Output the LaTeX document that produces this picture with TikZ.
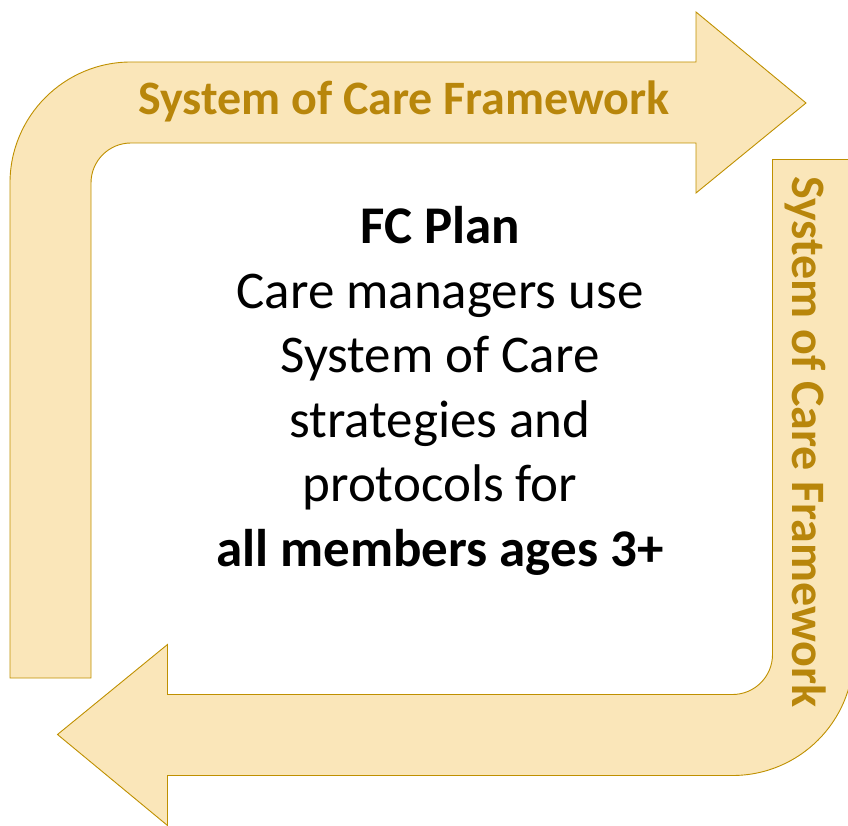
\documentclass[tikz,border=0pt]{standalone}
\usepackage{fontspec}
\setmainfont{Carlito}
\usepackage{xcolor}
\definecolor{bandfill}{HTML}{FAE6B9}
\definecolor{bandline}{HTML}{BF9000}
\definecolor{bandtext}{HTML}{B8860B}

\begin{document}
\begin{tikzpicture}[x=1pt,y=1pt,
  band/.style={fill=bandfill,draw=bandline,line width=0.9pt,line join=miter},
  bandlabel/.style={text=bandtext,font=\fontsize{48}{58}\selectfont\bfseries,inner sep=0pt},
  plantext/.style={align=center,font=\fontsize{53}{64.5}\selectfont,inner sep=0pt}]
  \useasboundingbox (0,0) rectangle (848,825);
  \clip (0,0) rectangle (848,825);

  % the two bent arrows, the second one turned half round
  \foreach \turn in {0,180}
    \draw[band,rotate around={\turn:(431.75,406.25)}]
      (10,147) -- (10,642) arc[start angle=180,end angle=90,radius=121]
      -- (696,763) -- (696,813) -- (806,722) -- (696,632) -- (696,682)
      -- (131,682) arc[start angle=90,end angle=180,radius=40] -- (91,147) -- cycle;

  \node[bandlabel,anchor=base] (toplabel) at (404,710) {System of Care Framework};
  \node[bandlabel,anchor=base,rotate=-90] (sidelabel) at (792,383) {System of Care Framework};

  \node[plantext] (plan) at (440,434)
    {\textbf{FC Plan}\\Care managers use\\System of Care\\strategies and\\protocols for\\\textbf{all members ages 3+}};
\end{tikzpicture}
\end{document}
